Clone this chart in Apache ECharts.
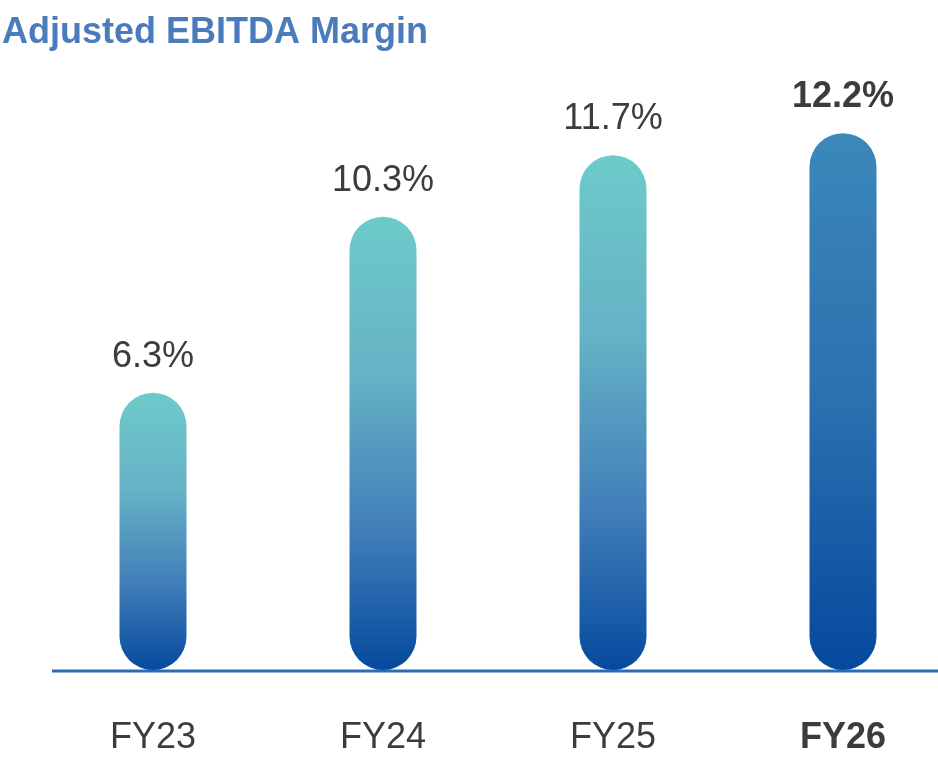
<!DOCTYPE html>
<html>
<head>
<meta charset="utf-8">
<title>Adjusted EBITDA Margin</title>
<script src="https://cdn.jsdelivr.net/npm/echarts@6/dist/echarts.min.js"></script>
<style>
  html, body { margin: 0; padding: 0; background: #fff; }
  #chart { width: 938px; height: 768px; }
</style>
</head>
<body>
<div id="chart"></div>
<script>
var categories = ["FY23", "FY24", "FY25", "FY26"];
var marginValues = [6.3, 10.3, 11.7, 12.2];
var highlightIndex = 3; // FY26 is drawn bold / darker

var normalGradient = new echarts.graphic.LinearGradient(0, 0, 0, 1, [
    { offset: 0, color: "#6dcbca" },
    { offset: 0.35, color: "#66b2c6" },
    { offset: 0.7, color: "#3f7db8" },
    { offset: 1, color: "#064a9e" }
]);
var highlightGradient = new echarts.graphic.LinearGradient(0, 0, 0, 1, [
    { offset: 0, color: "#3b88b9" },
    { offset: 0.5, color: "#2c70b0" },
    { offset: 1, color: "#06489d" }
]);

var barData = marginValues.map(function (v, i) {
    var hl = i === highlightIndex;
    return {
        value: v,
        itemStyle: { color: hl ? highlightGradient : normalGradient },
        label: { fontWeight: hl ? "bold" : "normal" }
    };
});

var chart = echarts.init(document.getElementById("chart"));
chart.setOption({
    animation: false,
    title: {
        text: "Adjusted EBITDA Margin",
        left: -3,
        top: 10,
        textStyle: {
            fontFamily: "Liberation Sans",
            fontSize: 36,
            fontWeight: "bold",
            color: "#4a7bbb"
        }
    },
    // boundaryGap off so the first and last bars sit at the grid edges
    grid: { left: 153, right: 95, top: 54, bottom: 98 },
    xAxis: {
        type: "category",
        data: categories,
        boundaryGap: false,
        axisLine: { show: false },
        axisTick: { show: false },
        axisLabel: {
            margin: 50,
            fontFamily: "Liberation Sans",
            fontSize: 36,
            color: "#3c3c3c",
            formatter: function (v) {
                return v === categories[highlightIndex] ? "{b|" + v + "}" : v;
            },
            rich: { b: { fontWeight: "bold", fontSize: 36, fontFamily: "Liberation Sans", color: "#3c3c3c" } }
        }
    },
    yAxis: {
        type: "value",
        min: 0,
        max: 14,
        show: false
    },
    graphic: [{
        type: "line",
        shape: { x1: 52, y1: 671, x2: 938, y2: 671 },
        style: { stroke: "#2a6db4", lineWidth: 3 }
    }],
    series: [{
        type: "bar",
        data: barData,
        barWidth: 67,
        itemStyle: { borderRadius: 33.5 },
        label: {
            show: true,
            position: "top",
            distance: 18,
            fontFamily: "Liberation Sans",
            fontSize: 36,
            color: "#3c3c3c",
            formatter: function (p) { return p.value.toFixed(1) + "%"; }
        }
    }]
});
</script>
</body>
</html>
